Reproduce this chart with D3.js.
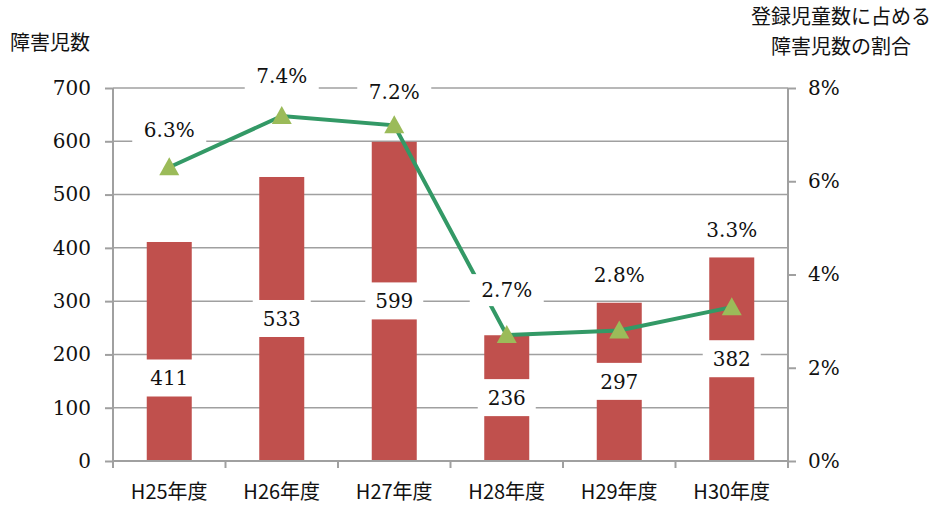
<!DOCTYPE html>
<html>
<head>
<meta charset="utf-8">
<script src="https://cdn.jsdelivr.net/npm/d3@7"></script>
<style>
  body { margin: 0; background: #fff; }
  .num { font-family: 'DejaVu Serif'; }
</style>
</head>
<body>
<div id="chart-container"></div>
<script>
const years = ["H25年度", "H26年度", "H27年度", "H28年度", "H29年度", "H30年度"];
const children = [411, 533, 599, 236, 297, 382];
const ratio = [6.3, 7.4, 7.2, 2.7, 2.8, 3.3];
const leftTicks = [0, 100, 200, 300, 400, 500, 600, 700];
const rightTicks = [0, 2, 4, 6, 8];

const svgWidth = 939;
const svgHeight = 507;
const margin = { top: 88, right: 151, bottom: 46, left: 113 };
const width = svgWidth - margin.left - margin.right;
const height = svgHeight - margin.top - margin.bottom;

const svg = d3.select("#chart-container")
    .append("svg")
    .attr("width", svgWidth)
    .attr("height", svgHeight);

const chart = svg.append("g")
    .attr("transform", `translate(${margin.left},${margin.top})`);

const scaleX = d3.scaleBand()
    .domain(years)
    .range([0, width])
    .paddingInner(0.6)
    .paddingOuter(0.3);

const scaleY = d3.scaleLinear().domain([0, 700]).range([height, 0]);
const scaleY2 = d3.scaleLinear().domain([0, 8]).range([height, 0]);

const gray = "#a0a0a0";
const gothic = "'Noto Sans CJK JP'";

// gridlines
chart.append("g")
    .selectAll("line")
    .data(leftTicks.filter(d => d > 0))
    .join("line")
    .attr("x1", 0)
    .attr("x2", width)
    .attr("y1", d => scaleY(d))
    .attr("y2", d => scaleY(d))
    .attr("stroke", gray)
    .attr("stroke-width", 1.5);

// bars
chart.selectAll(".bar")
    .data(children)
    .join("rect")
    .attr("class", "bar")
    .attr("x", (d, i) => scaleX(years[i]))
    .attr("width", scaleX.bandwidth())
    .attr("y", d => scaleY(d))
    .attr("height", d => height - scaleY(d))
    .attr("fill", "#c0504d");

// axes
const leftAxis = chart.append("g")
    .call(d3.axisLeft(scaleY).tickValues(leftTicks).tickSize(8).tickPadding(14));
const rightAxis = chart.append("g")
    .attr("transform", `translate(${width},0)`)
    .call(d3.axisRight(scaleY2).tickValues(rightTicks).tickSize(8).tickPadding(12).tickFormat(d => d + "%"));
const bandEdges = years.map(y => scaleX(y) - scaleX.step() * scaleX.paddingInner() / 2).concat([width]);
const bottomAxis = chart.append("g")
    .attr("transform", `translate(0,${height})`);
bottomAxis.append("line")
    .attr("x1", 0).attr("x2", width)
    .attr("stroke", gray).attr("stroke-width", 2);
bottomAxis.selectAll(".tk")
    .data(bandEdges)
    .join("line")
    .attr("class", "tk")
    .attr("x1", d => Math.max(0, d)).attr("x2", d => Math.max(0, d))
    .attr("y1", 0).attr("y2", 7)
    .attr("stroke", gray).attr("stroke-width", 2);
bottomAxis.selectAll("text")
    .data(years)
    .join("text")
    .attr("x", d => scaleX(d) + scaleX.bandwidth() / 2)
    .attr("y", 38)
    .attr("text-anchor", "middle")
    .style("font-family", gothic)
    .style("font-size", "20px")
    .attr("fill", "#111")
    .text(d => d);

[leftAxis, rightAxis].forEach(function(ax) {
    ax.attr("font-family", null).attr("font-size", null);
    ax.select(".domain").attr("stroke", gray).attr("stroke-width", 2);
    ax.selectAll(".tick line").attr("stroke", gray).attr("stroke-width", 2);
    ax.selectAll(".tick text")
        .attr("class", "num")
        .style("font-size", "20px")
        .attr("fill", "#111");
});
// top 700 gridline spans full width
leftAxis.select(".domain").attr("d", `M0,${height}V0`);
rightAxis.select(".domain").attr("d", `M0,${height}V0`);

// value labels with white boxes
const barLabelShift = [27, 0, 0, 0, 0, 0];
const barLabels = chart.selectAll(".blabel")
    .data(children)
    .join("g")
    .attr("class", "blabel")
    .attr("transform", (d, i) => `translate(${scaleX(years[i]) + scaleX.bandwidth() / 2},${scaleY(d / 2) + barLabelShift[i]})`);
barLabels.append("rect")
    .attr("x", -29).attr("y", -19)
    .attr("width", 58).attr("height", 37)
    .attr("fill", "#fff");
barLabels.append("text")
    .attr("class", "num")
    .attr("text-anchor", "middle")
    .attr("dy", "0.35em")
    .style("font-size", "20px")
    .attr("fill", "#111")
    .text(d => d);

// line
const lineGen = d3.line()
    .x((d, i) => scaleX(years[i]) + scaleX.bandwidth() / 2)
    .y(d => scaleY2(d));

chart.append("path")
    .datum(ratio)
    .attr("fill", "none")
    .attr("stroke", "#339966")
    .attr("stroke-width", 4)
    .attr("d", lineGen);

chart.selectAll(".marker")
    .data(ratio)
    .join("path")
    .attr("class", "marker")
    .attr("transform", (d, i) => `translate(${scaleX(years[i]) + scaleX.bandwidth() / 2},${scaleY2(d)})`)
    .attr("d", "M0,-10L10,8L-10,8Z")
    .attr("fill", "#9bbb59");

const pctLabelShift = [-37, -40, -33, -45, -55, -77];
const pctLabels = chart.selectAll(".plabel")
    .data(ratio)
    .join("g")
    .attr("class", "plabel")
    .attr("transform", (d, i) => `translate(${scaleX(years[i]) + scaleX.bandwidth() / 2},${scaleY2(d) + pctLabelShift[i]})`);
pctLabels.append("rect")
    .attr("x", -37).attr("y", -16)
    .attr("width", 74).attr("height", 32)
    .attr("fill", "#fff");
pctLabels.append("text")
    .attr("class", "num")
    .attr("text-anchor", "middle")
    .attr("dy", "0.35em")
    .style("font-size", "20px")
    .attr("fill", "#111")
    .text(d => d.toFixed(1) + "%");

// titles
svg.append("text")
    .attr("x", 10)
    .attr("y", 50)
    .style("font-family", gothic)
    .style("font-size", "20px")
    .attr("fill", "#111")
    .text("障害児数");

const rTitle = svg.append("text")
    .attr("text-anchor", "middle")
    .style("font-family", gothic)
    .style("font-size", "20px")
    .attr("fill", "#111");
rTitle.append("tspan").attr("x", 841).attr("y", 24).text("登録児童数に占める");
rTitle.append("tspan").attr("x", 841).attr("y", 54).text("障害児数の割合");
</script>
</body>
</html>
